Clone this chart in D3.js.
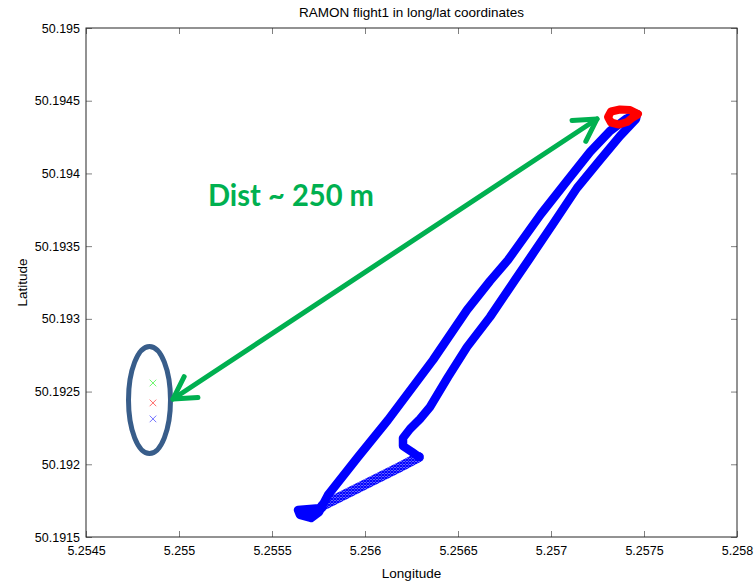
<!DOCTYPE html>
<html>
<head>
<meta charset="utf-8">
<script src="https://cdn.jsdelivr.net/npm/d3@7"></script>
<style>
  html, body { margin: 0; padding: 0; background: #fff; }
  svg { display: block; font-family: "Liberation Sans", Arial, Helvetica, sans-serif; }
</style>
</head>
<body>
<svg id="chart" width="755" height="581"></svg>
<script>
// Axis ticks
const lonTicks = [5.2545, 5.255, 5.2555, 5.256, 5.2565, 5.257, 5.2575, 5.258];
const latTicks = [50.1915, 50.192, 50.1925, 50.193, 50.1935, 50.194, 50.1945, 50.195];

// Flight track (blue), outbound and inbound legs
const trackLon = [5.2557688, 5.2557043, 5.2556398, 5.2556505, 5.2557097, 5.2557527, 5.2558011, 5.2559624,
  5.2561236, 5.2563656, 5.2565484, 5.2566720, 5.2567688, 5.2569462, 5.2570860,
  5.2572097, 5.2573172, 5.2574032, 5.2574624,
  5.2574570, 5.2573710, 5.2572634, 5.2571398, 5.2570107, 5.2568871, 5.2568064, 5.2566720,
  5.2565484, 5.2564462, 5.2563494, 5.2562957, 5.2562419, 5.2562043, 5.2562043, 5.2562527, 5.2562903];
const trackLat = [50.1916994, 50.1916926, 50.1916857, 50.1916513, 50.1916307, 50.1916719, 50.1917888, 50.1920501,
  50.1923045, 50.1927171, 50.1930609, 50.1932603, 50.1934047, 50.1937210, 50.1939479,
  50.1941474, 50.1942918, 50.1943743, 50.1944086,
  50.1943743, 50.1942574, 50.1940923, 50.1938998, 50.1936523, 50.1934185, 50.1932672, 50.1930128,
  50.1928065, 50.1926002, 50.1923939, 50.1923114, 50.1922426, 50.1921808, 50.1921257, 50.1920845, 50.1920501];

// Faster return leg (sparser samples)
const returnLon = [5.2562903, 5.2561882, 5.2560806, 5.2559731, 5.2558656, 5.2557688];
const returnLat = [50.1920501, 50.1919813, 50.1919126, 50.1918438, 50.1917751, 50.1917132];

// Hover loop at the far end (red)
const loopLon = [5.2574677, 5.2574247, 5.2573710, 5.2573226, 5.2573064, 5.2573226, 5.2573656, 5.2574086, 5.2574355, 5.2574624];
const loopLat = [50.1944086, 50.1944362, 50.1944396, 50.1944258, 50.1943880, 50.1943502, 50.1943364, 50.1943536, 50.1943811, 50.1944018];

// Reference positions
const refLon = [5.25486, 5.25486, 5.25486];
const refLat = [50.192559, 50.192422, 50.192312];
const refColor = ["#6cf76c", "#ff6b6b", "#7474ff"];

// Annotation anchors (data units)
const arrowLon = [5.2549677, 5.2572473];
const arrowLat = [50.1924489, 50.1943743];
const ringCenter = [5.2548414, 50.1924420];
const ringRadius = [0.0001129, 0.0003679];
const noteAnchor = [5.2551559, 50.193776];
const noteText = "Dist ~ 250 m";

const W = 755, H = 581;
const margin = { top: 28, right: 18, bottom: 44, left: 86 };
const iw = W - margin.left - margin.right;
const ih = H - margin.top - margin.bottom;

const svg = d3.select("#chart");
svg.append("rect").attr("width", W).attr("height", H).attr("fill", "#fff");

const x = d3.scaleLinear().domain([5.2545, 5.258]).range([0, iw]);
const y = d3.scaleLinear().domain([50.1915, 50.195]).range([ih, 0]);

const defs = svg.append("defs");
const hatch = defs.append("pattern")
  .attr("id", "hatch").attr("patternUnits", "userSpaceOnUse")
  .attr("width", 3).attr("height", 3);
hatch.append("rect").attr("width", 3).attr("height", 3).attr("fill", "#8c8cff");
hatch.append("path").attr("d", "M0,0L3,3M3,0L0,3")
  .attr("stroke", "#0000ff").attr("stroke-width", 1.2);

const g = svg.append("g").attr("transform", `translate(${margin.left},${margin.top})`);

const fmt = d3.format(".4~f");
const tickColor = "#808080";

// Axes with inward ticks on all four sides
const axB = g.append("g").attr("transform", `translate(0,${ih})`)
  .call(d3.axisBottom(x).tickValues(lonTicks).tickFormat(fmt).tickSizeInner(-6).tickSizeOuter(0).tickPadding(9));
const axT = g.append("g")
  .call(d3.axisTop(x).tickValues(lonTicks).tickFormat("").tickSizeInner(-6).tickSizeOuter(0));
const axL = g.append("g")
  .call(d3.axisLeft(y).tickValues(latTicks).tickFormat(fmt).tickSizeInner(-6).tickSizeOuter(0).tickPadding(6));
const axR = g.append("g").attr("transform", `translate(${iw},0)`)
  .call(d3.axisRight(y).tickValues(latTicks).tickFormat("").tickSizeInner(-6).tickSizeOuter(0));
[axB, axT, axL, axR].forEach(a => {
  a.select(".domain").remove();
  a.selectAll(".tick line").attr("stroke", tickColor);
  a.selectAll("text").attr("font-size", 12.5).attr("fill", "#000")
    .attr("font-family", "'Liberation Sans', Arial, sans-serif");
});

g.append("rect").attr("width", iw).attr("height", ih)
  .attr("fill", "none").attr("stroke", "#262626").attr("stroke-width", 1);

// Track
const line = d3.line().x(d => x(d[0])).y(d => y(d[1])).curve(d3.curveLinear);
const track = trackLon.map((v, i) => [v, trackLat[i]]);
const ret = returnLon.map((v, i) => [v, returnLat[i]]);
const loop = loopLon.map((v, i) => [v, loopLat[i]]);

g.append("path").datum(ret).attr("d", line)
  .attr("fill", "none").attr("stroke", "url(#hatch)").attr("stroke-width", 10)
  .attr("stroke-linecap", "round").attr("stroke-linejoin", "round");
g.append("path").datum(track).attr("d", line)
  .attr("fill", "none").attr("stroke", "#0000ff").attr("stroke-width", 8.5)
  .attr("stroke-linecap", "round").attr("stroke-linejoin", "round");
g.append("path").datum(loop).attr("d", line)
  .attr("fill", "none").attr("stroke", "#ff0000").attr("stroke-width", 8)
  .attr("stroke-linecap", "round").attr("stroke-linejoin", "round");

// Reference markers
g.selectAll(".ref").data(refLon).join("path")
  .attr("class", "ref")
  .attr("transform", (d, i) => `translate(${x(d)},${y(refLat[i])})`)
  .attr("d", "M-3.3,-3.3L3.3,3.3M3.3,-3.3L-3.3,3.3")
  .attr("fill", "none").attr("stroke", (d, i) => refColor[i]).attr("stroke-width", 1);

// Ring around the reference markers
const cx = x(ringCenter[0]), cy = y(ringCenter[1]);
g.append("ellipse")
  .attr("cx", cx).attr("cy", cy)
  .attr("rx", x(ringCenter[0] + ringRadius[0]) - cx)
  .attr("ry", cy - y(ringCenter[1] + ringRadius[1]))
  .attr("fill", "none").attr("stroke", "#385d8a").attr("stroke-width", 5);

// Double-headed distance arrow
const green = "#00b050";
const p0 = [x(arrowLon[0]), y(arrowLat[0])];
const p1 = [x(arrowLon[1]), y(arrowLat[1])];
const headLen = 25, headAng = Math.PI / 6;
function head(tip, from) {
  const a = Math.atan2(from[1] - tip[1], from[0] - tip[0]);
  const l = [tip[0] + headLen * Math.cos(a + headAng), tip[1] + headLen * Math.sin(a + headAng)];
  const r = [tip[0] + headLen * Math.cos(a - headAng), tip[1] + headLen * Math.sin(a - headAng)];
  return `M${l[0]},${l[1]}L${tip[0]},${tip[1]}L${r[0]},${r[1]}`;
}
const arrow = g.append("g").attr("fill", "none").attr("stroke", green).attr("stroke-width", 5)
  .attr("stroke-linecap", "round").attr("stroke-linejoin", "round");
arrow.append("path").attr("d", `M${p0[0]},${p0[1]}L${p1[0]},${p1[1]}`);
arrow.append("path").attr("d", head(p0, p1));
arrow.append("path").attr("d", head(p1, p0));

g.append("text")
  .attr("x", x(noteAnchor[0])).attr("y", y(noteAnchor[1]))
  .attr("font-family", "Lato, 'Open Sans', sans-serif").attr("font-weight", "bold")
  .attr("font-size", 30).attr("fill", green)
  .attr("textLength", 166).attr("lengthAdjust", "spacingAndGlyphs")
  .text(noteText);

// Titles
svg.append("text").attr("x", margin.left + iw / 2).attr("y", 17)
  .attr("text-anchor", "middle").attr("font-size", 13.5).text("RAMON flight1 in long/lat coordinates");
svg.append("text").attr("x", margin.left + iw / 2).attr("y", 578)
  .attr("text-anchor", "middle").attr("font-size", 13.5).text("Longitude");
svg.append("text").attr("transform", `translate(27,${margin.top + ih / 2}) rotate(-90)`)
  .attr("text-anchor", "middle").attr("font-size", 13.5).text("Latitude");
</script>
</body>
</html>
